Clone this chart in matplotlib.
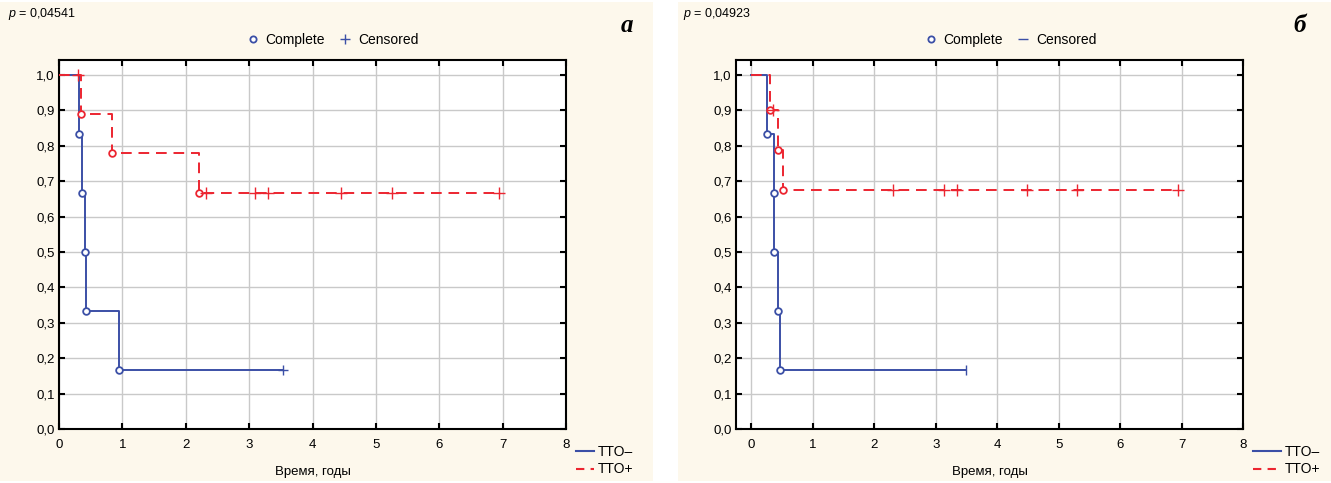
import matplotlib
matplotlib.use("Agg")
import matplotlib.pyplot as plt
from matplotlib.lines import Line2D
from matplotlib.patches import Rectangle

plt.rcParams['font.family'] = ['Liberation Sans', 'DejaVu Sans']
plt.rcParams['mathtext.fontset'] = 'custom'
plt.rcParams['mathtext.it'] = 'Liberation Sans:italic'
plt.rcParams['mathtext.rm'] = 'Liberation Sans'

# ---------------- data ----------------
# Panel a
a_neg_times = [0, 0.31, 0.36, 0.41, 0.42, 0.94, 3.54]
a_neg_surv = [1.0, 0.833, 0.667, 0.5, 0.333, 0.167, 0.167]
a_neg_cens_t = [3.54]
a_neg_cens_s = [0.167]

a_pos_times = [0, 0.35, 0.83, 2.21, 6.94]
a_pos_surv = [1.0, 0.889, 0.778, 0.667, 0.667]
a_pos_cens_t = [0.30, 2.32, 3.09, 3.30, 4.45, 5.25, 6.94]
a_pos_cens_s = [1.0, 0.667, 0.667, 0.667, 0.667, 0.667, 0.667]

# Panel б
b_neg_times = [0, 0.25, 0.37, 0.37, 0.44, 0.47, 3.49]
b_neg_surv = [1.0, 0.833, 0.667, 0.5, 0.333, 0.167, 0.167]
b_neg_cens_t = [3.49]
b_neg_cens_s = [0.167]

b_pos_times = [0, 0.30, 0.44, 0.52, 6.95]
b_pos_surv = [1.0, 0.9, 0.7875, 0.675, 0.675]
b_pos_cens_t = [0.35, 2.31, 3.13, 3.34, 4.48, 5.30, 6.95]
b_pos_cens_s = [0.9, 0.675, 0.675, 0.675, 0.675, 0.675, 0.675]

p_values = ["0,04541", "0,04923"]
panel_letters = ["a", "б"]
series_labels = ["TTO–", "TTO+"]
x_ticks = list(range(0, 9))
y_ticks = [i / 10 for i in range(0, 11)]
y_ticklabels = [f"{v:.1f}".replace(".", ",") for v in y_ticks]
xlabel = "Время, годы"

BLUE = "#3B4FA6"
RED = "#EC2530"
CREAM = "#FDF8EC"
GRID = "#C9C9C9"

W, H = 1331, 483
fig = plt.figure(figsize=(W / 100, H / 100), dpi=100, facecolor="white")

# panel backgrounds
fig.patches.append(Rectangle((0, 2 / H), 653 / W, 479 / H, transform=fig.transFigure,
                             facecolor=CREAM, edgecolor="none", zorder=-10))
fig.patches.append(Rectangle((678 / W, 2 / H), (W - 678) / W, 479 / H, transform=fig.transFigure,
                             facecolor=CREAM, edgecolor="none", zorder=-10))

panels = [
    dict(left=59, right=566, xmin=0.0, neg=(a_neg_times, a_neg_surv, a_neg_cens_t, a_neg_cens_s),
         pos=(a_pos_times, a_pos_surv, a_pos_cens_t, a_pos_cens_s), cens_marker="+",
         neg_cens_marker="+", p_x=8, letter_x=627, leg_cx=332, bl_x=576, handlelen=1.3),
    dict(left=736, right=1243, xmin=-0.25, neg=(b_neg_times, b_neg_surv, b_neg_cens_t, b_neg_cens_s),
         pos=(b_pos_times, b_pos_surv, b_pos_cens_t, b_pos_cens_s), cens_marker="_",
         neg_cens_marker="|", p_x=683, letter_x=1300, leg_cx=1010, bl_x=1253, handlelen=2.0),
]

top_px, bot_px = 60, 429
for i, P in enumerate(panels):
    ax = fig.add_axes([P["left"] / W, 1 - bot_px / H, (P["right"] - P["left"]) / W, (bot_px - top_px) / H])
    ax.set_facecolor("white")
    ax.set_xlim(P["xmin"], 8)
    ax.set_ylim(0, 1.042)
    ax.set_xticks(x_ticks)
    ax.set_yticks(y_ticks)
    ax.set_yticklabels(y_ticklabels)
    ax.grid(True, color=GRID, linewidth=1.0)
    ax.set_axisbelow(True)
    for s in ax.spines.values():
        s.set_linewidth(1.5)
        s.set_color("black")
    ax.tick_params(direction="in", length=4, width=1.5, labelsize=9.5, top=True, right=True,
                   colors="black")
    ax.tick_params(axis="x", pad=7)
    ax.tick_params(axis="y", pad=3)
    ax.set_xlabel(xlabel, fontsize=9.5, labelpad=11)

    nt, ns, nct, ncs = P["neg"]
    pt, ps, pct, pcs = P["pos"]
    ax.step(nt, ns, where="post", color=BLUE, linewidth=1.4, zorder=3)
    ax.plot(nt[1:-1], ns[1:-1], linestyle="none", marker="o", markersize=4.8,
            markerfacecolor="white", markeredgecolor=BLUE, markeredgewidth=1.3, zorder=4)
    ax.plot(nct, ncs, linestyle="none", marker=P["neg_cens_marker"], markersize=7,
            markeredgecolor=BLUE, markeredgewidth=1.0, zorder=4)

    ax.step(pt, ps, where="post", color=RED, linewidth=1.4, dashes=(5.5, 3.5), zorder=3)
    ax.plot(pt[1:-1], ps[1:-1], linestyle="none", marker="o", markersize=4.8,
            markerfacecolor="white", markeredgecolor=RED, markeredgewidth=1.3, zorder=4)
    ax.plot(pct, pcs, linestyle="none", marker="+", markersize=8,
            markeredgecolor=RED, markeredgewidth=1.0, zorder=4)

    # texts
    fig.text(P["p_x"] / W, 1 - 14 / H, f"$p$ = {p_values[i]}", fontsize=9, ha="left", va="center")
    fig.text(P["letter_x"] / W, 1 - 26 / H, panel_letters[i], fontsize=18, fontweight="bold",
             fontstyle="italic", family=["Liberation Serif", "DejaVu Serif"], ha="center", va="center")

    # top legend
    h1 = Line2D([], [], linestyle="none", marker="o", markersize=4.5, markerfacecolor="white",
                markeredgecolor=BLUE, markeredgewidth=1.3)
    h2 = Line2D([], [], linestyle="none", marker=P["cens_marker"], markersize=7,
                markeredgecolor=BLUE, markeredgewidth=1.0)
    fig.legend([h1, h2], ["Complete", "Censored"], loc="center", ncol=2, frameon=False,
               bbox_to_anchor=(P["leg_cx"] / W, 1 - 40 / H), fontsize=10, handlelength=1.0,
               handletextpad=0.4, columnspacing=1.0, borderpad=0)

    # bottom-right legend
    l1 = Line2D([], [], color=BLUE, linewidth=1.5)
    l2 = Line2D([], [], color=RED, linewidth=1.5, dashes=(4, 3))
    fig.legend([l1, l2], series_labels, loc="upper left", frameon=False,
               bbox_to_anchor=(P["bl_x"] / W, 1 - 445 / H), fontsize=10,
               handlelength=P["handlelen"], handletextpad=0.3, borderpad=0, borderaxespad=0,
               labelspacing=0.25)

fig.savefig("out.png", dpi=100, facecolor="white")
